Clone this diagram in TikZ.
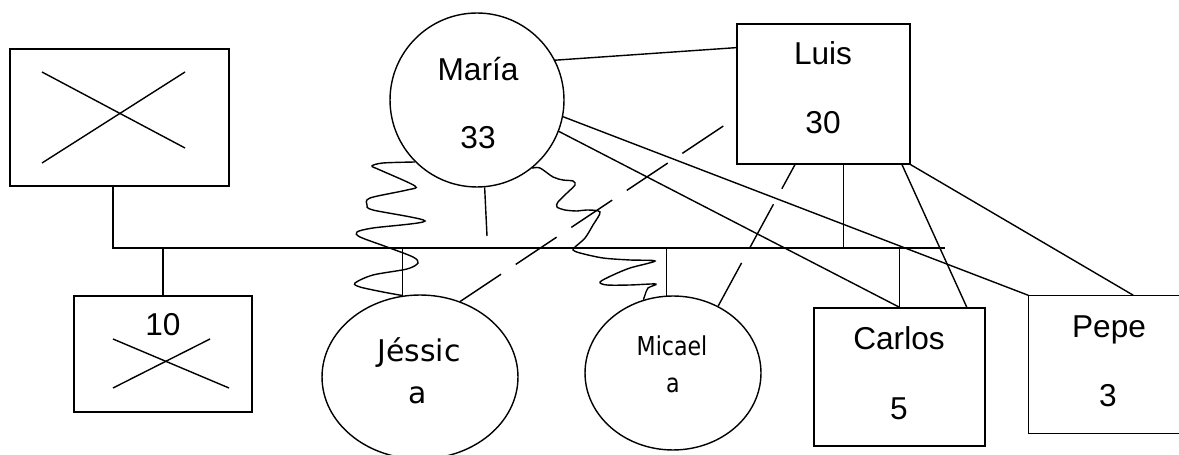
\documentclass[tikz,border=0pt]{standalone}
\usepackage{fontspec}
\setmainfont{Liberation Sans}
\newfontfamily\verdanaish{DejaVu Sans}
\newfontfamily\tahomaish[FakeStretch=0.85]{DejaVu Sans}
\usetikzlibrary{shapes.geometric}

\begin{document}
\begin{tikzpicture}[x=0.02cm, y=-0.02cm, line width=0.8pt,
    person/.style={draw, rectangle, inner sep=0pt},
    oval/.style={draw, ellipse, inner sep=0pt},
    pname/.style={font=\fontsize{18}{18}\selectfont, inner sep=0pt, text height=12.9pt, text depth=0pt},
    vname/.style={font=\verdanaish\fontsize{17}{17}\selectfont, inner sep=0pt, text height=12.4pt, text depth=0pt},
    tname/.style={font=\tahomaish\fontsize{14.8}{14.8}\selectfont, inner sep=0pt, text height=10.8pt, text depth=0pt},
    tie/.style={dash pattern=on 28pt off 10pt}]
    \useasboundingbox (0,0) rectangle (1179,455);

    % Draw the people
    \node[person, minimum width=4.38cm, minimum height=2.74cm] (padre) at (119.5,117.5) {};
    \node[person, minimum width=3.56cm, minimum height=2.32cm] (hijo) at (163,354) {};
    \node[draw, circle, minimum size=3.48cm, inner sep=0pt] (maria) at (477,100) {};
    \node[person, minimum width=3.46cm, minimum height=2.8cm] (luis) at (823.5,94) {};
    \node[oval, minimum width=3.92cm, minimum height=3.28cm] (jessica) at (420,377) {};
    \node[oval, minimum width=3.52cm, minimum height=3.08cm] (micaela) at (673,373) {};
    \node[person, minimum width=3.42cm, minimum height=2.76cm] (carlos) at (899.5,377) {};
    \node[person, draw=none, minimum width=3cm, minimum height=2.74cm] (pepe) at (1104,364.5) {};
    % Pepe runs off the right edge
    \draw (pepe.north east) -- (pepe.north west) -- (pepe.south west) -- (pepe.south east);

    % Draw the names and ages
    \node[pname] (marianame) at (478,69) {María};
    \node[pname] (mariaage) at (478,137) {33};
    \node[pname] (luisname) at (823,53.5) {Luis};
    \node[pname] (luisage) at (823,122.5) {30};
    \node[pname] (carlosname) at (899,338) {Carlos};
    \node[pname] (carlosage) at (899,408) {5};
    \node[pname] (pepename) at (1109,326) {Pepe};
    \node[pname] (pepeage) at (1108,395) {3};
    \node[pname] (hijoage) at (163,324) {10};
    \node[vname] (jessicaname) at (419,350.5) {Jéssic};
    \node[vname] (jessicaend) at (418,392.5) {a};
    \node[tname] (micaelaname) at (672,346.5) {Micael};
    \node[tname] (micaelaend) at (673,383.5) {a};

    % Draw the crosses
    \draw (42,72) -- (185,148);
    \draw (42,163) -- (185,72);
    \draw (113,339) -- (229,388);
    \draw (113,388) -- (210,339);

    % Draw the sibling bar
    \coordinate (bl) at (113,248);
    \coordinate (br) at (945,248);
    \coordinate (mstub) at (487,236);
    \draw (padre.south -| bl) -- (bl) -- (br);
    \draw (hijo.north) -- (hijo.north |- bl);
    \draw (jessica.102) -- (jessica.102 |- bl);
    \draw (micaela.95) -- (micaela.95 |- bl);
    \draw (carlos.north) -- (carlos.north |- bl);
    \draw (luis.-74) -- (luis.-74 |- bl);
    \draw (maria.-85) -- (mstub);

    % Draw the links
    \draw (maria.27) -- (luis.152);
    \draw (maria.-11) -- (pepe.north west);
    \draw (maria.-21) -- (carlos.north);
    \draw (luis.-42) -- (carlos.46);
    \draw (luis.south east) -- (pepe.67);

    % Draw the dashed ties
    \draw[tie] (jessica.62) -- (luis.195);
    \draw[tie] (micaela.56) -- (luis.-112);

    % Draw the wavy ties
    \draw plot[smooth, tension=0.5] coordinates {(maria.-135) (383,163) (372,166) (380,170) (415,186) (407,190) (370,198) (367,205) (373,210) (425,221) (373,228) (357,232) (360,237) (387,247) (413,257) (418,263) (407,269) (373,275) (355,283) (360,287) (383,292) (jessica.102)};
    \draw plot[smooth, tension=0.5] coordinates {(maria.-51) (540,168) (553,177) (563,180) (573,181) (575,185) (567,193) (558,202) (557,207) (565,210) (577,211) (587,210) (600,212) (593,225) (585,238) (575,247) (573,250) (580,253) (603,258) (630,260) (655,261) (630,268) (613,275) (600,282) (607,285) (630,285) (656,284) (648,288) (645,295) (micaela.112)};
\end{tikzpicture}
\end{document}
